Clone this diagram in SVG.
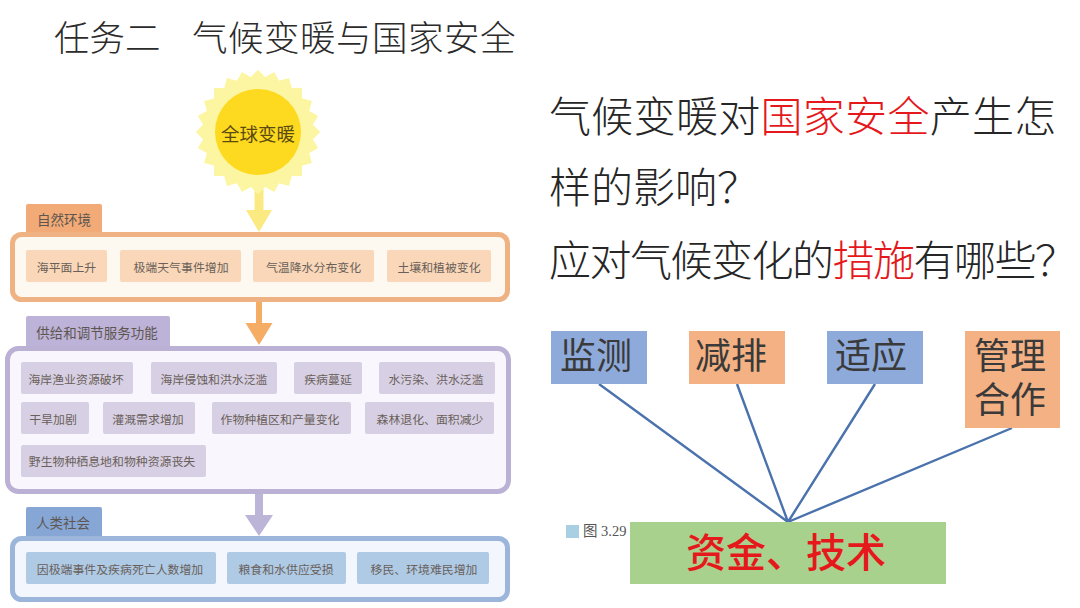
<svg xmlns="http://www.w3.org/2000/svg" width="1080" height="608" viewBox="0 0 1080 608">
<style>
text{font-family:"Noto Sans CJK SC","Noto Sans",sans-serif;dominant-baseline:central}
.m{text-anchor:middle}
.head{font-size:35.5px;font-weight:300;fill:#2b2b2b}
.q{font-size:42px;font-weight:300;fill:#262626}
.red{fill:#e5181c}
.tab{font-size:13.5px;fill:#5d5650;text-anchor:middle}
.chip{font-size:11.9px;fill:#6a5f5a;text-anchor:middle}
.pan{stroke-width:5}
.act{font-size:36px;fill:#3a3a3a;text-anchor:middle}
.or .b{fill:#f4b183}.bl .b{fill:#8eaadb}
.ray{fill:#fcf6a3}
.c1{fill:#f9d7b8}.c2{fill:#d7cfe3}.c3{fill:#aecae5}
.ln{stroke:#4a72ad;stroke-width:2.4;fill:none}
</style>
<rect width="1080" height="608" fill="#fff"/>
<g id="title">
<text class="head" x="54" y="35">任务二</text>
<text class="head" x="192" y="35" letter-spacing="0.500">气候变暖与国家安全</text>
</g>
<g id="questions">
<text class="q" x="549" y="113" letter-spacing="0.300">气候变暖对<tspan class="red">国家安全</tspan>产生怎</text>
<text class="q" x="549" y="184">样的影响？</text>
<text class="q" x="549" y="257" letter-spacing="-1.500">应对气候变化的<tspan class="red">措施</tspan>有哪些？</text>
</g>
<g id="connectors">
<path d="M254.500 189h9v21h8.500l-13 22-13-22h8.500z" fill="#fbe982"/>
<path d="M256 302h6v21h10.500l-13.500 22-13.500-22h10.500z" fill="#f5ad66"/>
<path d="M255 493h8v22h10l-14 21-14-21h10z" fill="#bdb5d8"/>
<path class="ln" d="M599 384L788 522M737 384L788 522M875 384L788 522M1012 428L788 522"/>
</g>
<g id="sun" transform="translate(258 132)">
<g class="ray">
<rect x="-44" y="-44" width="88" height="88"/>
<rect x="-44" y="-44" width="88" height="88" transform="rotate(15)"/>
<rect x="-44" y="-44" width="88" height="88" transform="rotate(30)"/>
<rect x="-44" y="-44" width="88" height="88" transform="rotate(45)"/>
<rect x="-44" y="-44" width="88" height="88" transform="rotate(60)"/>
<rect x="-44" y="-44" width="88" height="88" transform="rotate(75)"/>
</g>
<circle r="43" fill="#fdd91f"/>
<text class="m" y="1" font-size="18.500" fill="#5a4a10">全球变暖</text>
</g>
<g id="natural">
<rect x="26" y="204" width="76" height="32" rx="2" fill="#f2aa76"/>
<text class="tab" x="64" y="219">自然环境</text>
<rect class="pan" x="12.500" y="234.500" width="495" height="65" rx="9" fill="#fdf8f0" stroke="#eeb283"/>
<rect class="c1" x="26" y="250" width="81" height="32" rx="2"/><text class="chip" x="66.500" y="266">海平面上升</text>
<rect class="c1" x="120" y="250" width="121" height="32" rx="2"/><text class="chip" x="181" y="266">极端天气事件增加</text>
<rect class="c1" x="253" y="250" width="121" height="32" rx="2"/><text class="chip" x="313.500" y="266">气温降水分布变化</text>
<rect class="c1" x="387" y="250" width="104" height="32" rx="2"/><text class="chip" x="439" y="266">土壤和植被变化</text>
</g>
<g id="services">
<rect x="26" y="316" width="144" height="33" rx="2" fill="#bdb2d7"/>
<text class="tab" x="97" y="332">供给和调节服务功能</text>
<rect class="pan" x="7.500" y="348.500" width="501" height="143" rx="11" fill="#f9f7fd" stroke="#bab1d4"/>
<rect class="c2" x="21" y="362" width="112" height="32" rx="2"/><text class="chip" x="76" y="378">海岸渔业资源破坏</text>
<rect class="c2" x="151" y="362" width="126" height="32" rx="2"/><text class="chip" x="214" y="378">海岸侵蚀和洪水泛滥</text>
<rect class="c2" x="294" y="362" width="68" height="32" rx="2"/><text class="chip" x="328" y="378">疾病蔓延</text>
<rect class="c2" x="379" y="362" width="116" height="32" rx="2"/><text class="chip" x="436" y="378">水污染、洪水泛滥</text>
<rect class="c2" x="21" y="402" width="68" height="32" rx="2"/><text class="chip" x="53" y="418">干旱加剧</text>
<rect class="c2" x="103" y="402" width="92" height="32" rx="2"/><text class="chip" x="148" y="418">灌溉需求增加</text>
<rect class="c2" x="212" y="402" width="139" height="32" rx="2"/><text class="chip" x="280" y="418">作物种植区和产量变化</text>
<rect class="c2" x="365" y="402" width="129" height="32" rx="2"/><text class="chip" x="430" y="418">森林退化、面积减少</text>
<rect class="c2" x="21" y="445" width="185" height="32" rx="2"/><text class="chip" x="112" y="460">野生物种栖息地和物种资源丧失</text>
</g>
<g id="society">
<rect x="26" y="507" width="76" height="32" rx="2" fill="#86a6d6"/>
<text class="tab" x="63" y="522">人类社会</text>
<rect class="pan" x="12.500" y="538.500" width="495" height="61" rx="9" fill="#f3f7fd" stroke="#9cb5da"/>
<rect class="c3" x="26" y="552" width="190" height="32" rx="2"/><text class="chip" x="120" y="568">因极端事件及疾病死亡人数增加</text>
<rect class="c3" x="227" y="552" width="119" height="32" rx="2"/><text class="chip" x="286" y="568">粮食和水供应受损</text>
<rect class="c3" x="357" y="552" width="132" height="32" rx="2"/><text class="chip" x="424" y="568">移民、环境难民增加</text>
</g>
<g id="monitor" class="bl"><rect class="b" x="551" y="331" width="96" height="53"/><text class="act" x="596" y="353">监测</text></g>
<g id="reduce" class="or"><rect class="b" x="689" y="331" width="96" height="53"/><text class="act" x="731" y="353">减排</text></g>
<g id="adapt" class="bl"><rect class="b" x="827" y="331" width="96" height="53"/><text class="act" x="871" y="353">适应</text></g>
<g id="manage" class="or"><rect class="b" x="965" y="331" width="95" height="97"/><text class="act"><tspan x="1010" y="353">管理</tspan><tspan x="1010" y="397">合作</tspan></text></g>
<g id="fund">
<rect x="630" y="522" width="316" height="62" fill="#a9d18e"/>
<text class="m" x="786" y="550" font-size="40px" font-weight="500" fill="#e5181c">资金、技术</text>
</g>
<g id="figure-label">
<rect x="566" y="525" width="13" height="13" fill="#a9cfe3"/>
<text x="583" y="531" font-size="14.500px" fill="#555" style="font-family:'Liberation Serif','Noto Sans CJK SC',serif">图 3.29</text>
</g>
</svg>
